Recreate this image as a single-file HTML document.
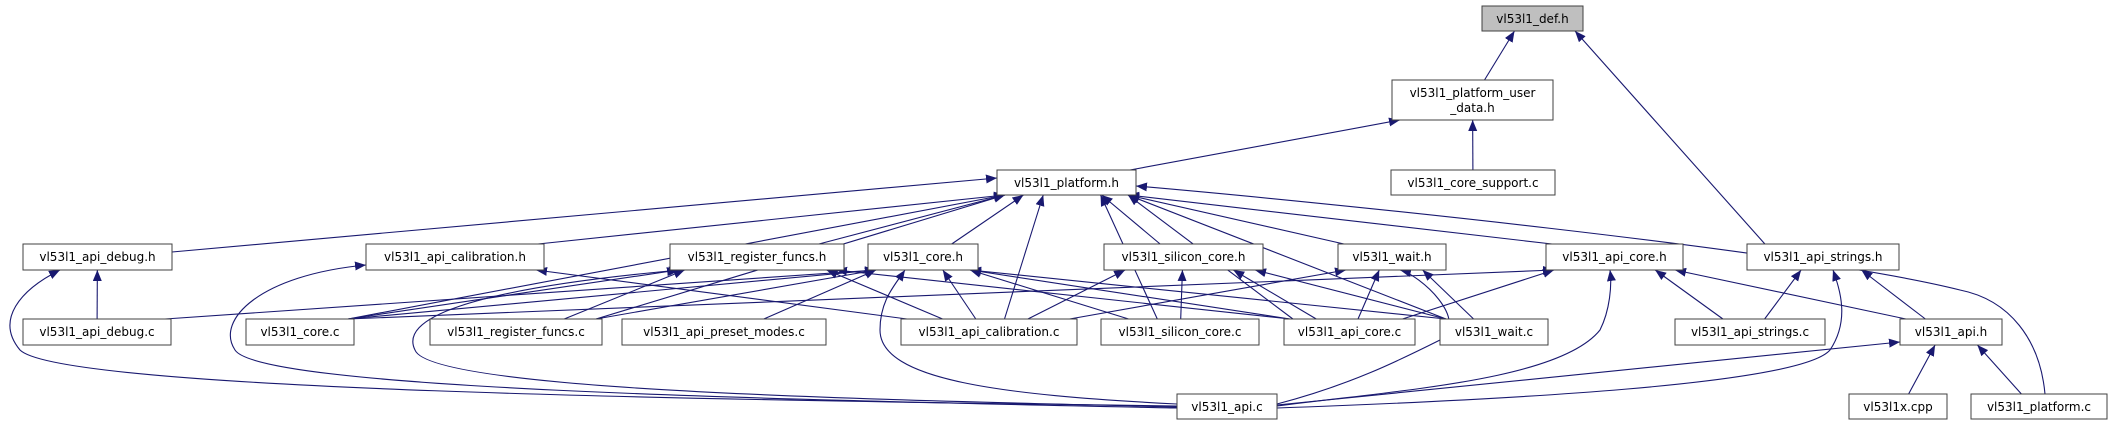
<!DOCTYPE html>
<html><head><meta charset="utf-8">
<style>
html,body{margin:0;padding:0;background:#fff;}
svg{display:block;}
text{font-family:"DejaVu Sans","Liberation Sans",sans-serif;font-size:12px;fill:#000;}
</style></head>
<body>
<svg id="g" xmlns="http://www.w3.org/2000/svg" width="2113" height="425" viewBox="0 0 2113 425">
<defs>
<marker id="a" markerUnits="userSpaceOnUse" markerWidth="12" markerHeight="10" refX="11" refY="4.5" orient="auto">
<path d="M0,0 L11,4.5 L0,9 z" fill="#191970"/>
</marker>
</defs>
<g id="edges" fill="none" stroke="#191970" stroke-width="1.1"></g>
<g id="nodes" stroke="#404040" stroke-width="1">
<rect x="1482" y="6" width="101" height="25" fill="#bfbfbf"/><text x="1532.5" y="23" text-anchor="middle" stroke="none">vl53l1_def.h</text>
<rect x="1392" y="80" width="161" height="40" fill="#fff"/><text x="1472.5" y="97" text-anchor="middle" stroke="none">vl53l1_platform_user</text><text x="1472.5" y="112" text-anchor="middle" stroke="none">_data.h</text>
<rect x="1391" y="170" width="164" height="25" fill="#fff"/><text x="1473" y="187" text-anchor="middle" stroke="none">vl53l1_core_support.c</text>
<rect x="997" y="170" width="139" height="25" fill="#fff"/><text x="1066.5" y="187" text-anchor="middle" stroke="none">vl53l1_platform.h</text>

<rect x="23" y="244" width="149" height="26" fill="#fff"/><text x="97.5" y="261" text-anchor="middle" stroke="none">vl53l1_api_debug.h</text>
<rect x="366" y="244" width="178" height="26" fill="#fff"/><text x="455" y="261" text-anchor="middle" stroke="none">vl53l1_api_calibration.h</text>
<rect x="670" y="244" width="174" height="26" fill="#fff"/><text x="757" y="261" text-anchor="middle" stroke="none">vl53l1_register_funcs.h</text>
<rect x="868" y="244" width="110" height="26" fill="#fff"/><text x="923" y="261" text-anchor="middle" stroke="none">vl53l1_core.h</text>
<rect x="1104" y="244" width="159" height="26" fill="#fff"/><text x="1183.5" y="261" text-anchor="middle" stroke="none">vl53l1_silicon_core.h</text>
<rect x="1338" y="244" width="108" height="26" fill="#fff"/><text x="1392" y="261" text-anchor="middle" stroke="none">vl53l1_wait.h</text>
<rect x="1546" y="244" width="137" height="26" fill="#fff"/><text x="1614.5" y="261" text-anchor="middle" stroke="none">vl53l1_api_core.h</text>
<rect x="1747" y="244" width="152" height="26" fill="#fff"/><text x="1823" y="261" text-anchor="middle" stroke="none">vl53l1_api_strings.h</text>

<rect x="23" y="319" width="148" height="26" fill="#fff"/><text x="97" y="336" text-anchor="middle" stroke="none">vl53l1_api_debug.c</text>
<rect x="246" y="319" width="108" height="26" fill="#fff"/><text x="300" y="336" text-anchor="middle" stroke="none">vl53l1_core.c</text>
<rect x="430" y="319" width="172" height="26" fill="#fff"/><text x="516" y="336" text-anchor="middle" stroke="none">vl53l1_register_funcs.c</text>
<rect x="622" y="319" width="204" height="26" fill="#fff"/><text x="724" y="336" text-anchor="middle" stroke="none">vl53l1_api_preset_modes.c</text>
<rect x="901" y="319" width="176" height="26" fill="#fff"/><text x="989" y="336" text-anchor="middle" stroke="none">vl53l1_api_calibration.c</text>
<rect x="1101" y="319" width="158" height="26" fill="#fff"/><text x="1180" y="336" text-anchor="middle" stroke="none">vl53l1_silicon_core.c</text>
<rect x="1284" y="319" width="131" height="26" fill="#fff"/><text x="1349.5" y="336" text-anchor="middle" stroke="none">vl53l1_api_core.c</text>
<rect x="1440" y="319" width="108" height="26" fill="#fff"/><text x="1494" y="336" text-anchor="middle" stroke="none">vl53l1_wait.c</text>
<rect x="1675" y="319" width="150" height="26" fill="#fff"/><text x="1750" y="336" text-anchor="middle" stroke="none">vl53l1_api_strings.c</text>
<rect x="1900" y="319" width="102" height="26" fill="#fff"/><text x="1951" y="336" text-anchor="middle" stroke="none">vl53l1_api.h</text>

<rect x="1177" y="394" width="100" height="25" fill="#fff"/><text x="1227" y="411" text-anchor="middle" stroke="none">vl53l1_api.c</text>
<rect x="1849" y="394" width="98" height="25" fill="#fff"/><text x="1898" y="411" text-anchor="middle" stroke="none">vl53l1x.cpp</text>
<rect x="1971" y="394" width="136" height="25" fill="#fff"/><text x="2039" y="411" text-anchor="middle" stroke="none">vl53l1_platform.c</text>
</g>
</svg>
<script>
var N={
def:[1482,6,101,25],ud:[1392,80,161,40],cs:[1391,170,164,25],ph:[997,170,139,25],
adh:[23,244,149,26],ach:[366,244,178,26],rfh:[670,244,174,26],ch:[868,244,110,26],sch:[1104,244,159,26],wh:[1338,244,108,26],acoh:[1546,244,137,26],ash:[1747,244,152,26],
adc:[23,319,148,26],cc:[246,319,108,26],rfc:[430,319,172,26],pmc:[622,319,204,26],acc:[901,319,176,26],scc:[1101,319,158,26],acoc:[1284,319,131,26],wc:[1440,319,108,26],asc:[1675,319,150,26],ah:[1900,319,102,26],
ac:[1177,394,100,25],x:[1849,394,98,25],pc:[1971,394,136,25]};
function cl(v,a,b){return Math.max(a,Math.min(b,v));}
var G=document.getElementById('edges');
function P(d){var p=document.createElementNS('http://www.w3.org/2000/svg','path');p.setAttribute('d',d);p.setAttribute('marker-end','url(#a)');G.appendChild(p);}
function E(c,p){c=N[c];p=N[p];var ccx=c[0]+c[2]/2,pcx=p[0]+p[2]/2;
var sx=ccx+cl((pcx-ccx)*0.2,-c[2]/2+6,c[2]/2-6),sy=c[1];
var ex=pcx+cl((ccx-pcx)*0.3,-p[2]/2+8,p[2]/2-8),ey=p[1]+p[3];
P('M'+sx+','+sy+' L'+ex+','+ey);}
[['ud','def'],['ash','def'],['cs','ud'],['ph','ud'],
['ach','ph'],['rfh','ph'],['ch','ph'],['sch','ph'],['wh','ph'],['acoh','ph'],
['cc','ph'],['rfc','ph'],['acc','ph'],['scc','ph'],['acoc','ph'],['wc','ph'],
['adc','adh'],['acc','ach'],
['cc','rfh'],['rfc','rfh'],['acc','rfh'],['acoc','rfh'],
['cc','ch'],['adc','ch'],['rfc','ch'],['pmc','ch'],['acc','ch'],['scc','ch'],['acoc','ch'],['wc','ch'],
['acc','sch'],['scc','sch'],['acoc','sch'],['wc','sch'],
['acc','wh'],['acoc','wh'],['wc','wh'],
['cc','acoh'],['acoc','acoh'],['asc','acoh'],['ah','acoh'],
['asc','ash'],['ah','ash'],['x','ah'],['pc','ah']].forEach(function(e){E(e[0],e[1]);});
P('M172,252 L997,178');
P('M2045,394 C2040,340 2010,300 1960,290 C1800,250 1300,200 1136,186');
P('M1177,406 C700,400 60,390 20,350 C-5,320 20,290 60,270');
P('M1177,408 C800,400 260,390 235,350 C215,320 260,275 366,265');
P('M1177,407 C900,400 430,392 415,350 C400,320 460,290 680,270');
P('M1177,404 C1000,395 880,380 880,330 C880,300 895,285 905,270');
P('M1277,404 C1350,385 1400,360 1440,340 C1470,320 1420,275 1400,270');
P('M1277,406 C1400,390 1560,380 1600,330 C1610,310 1612,285 1610,270');
P('M1277,408 C1500,400 1800,385 1830,350 C1850,320 1840,290 1833,270');
P('M1277,405 L1900,342');
</script>
</body></html>
